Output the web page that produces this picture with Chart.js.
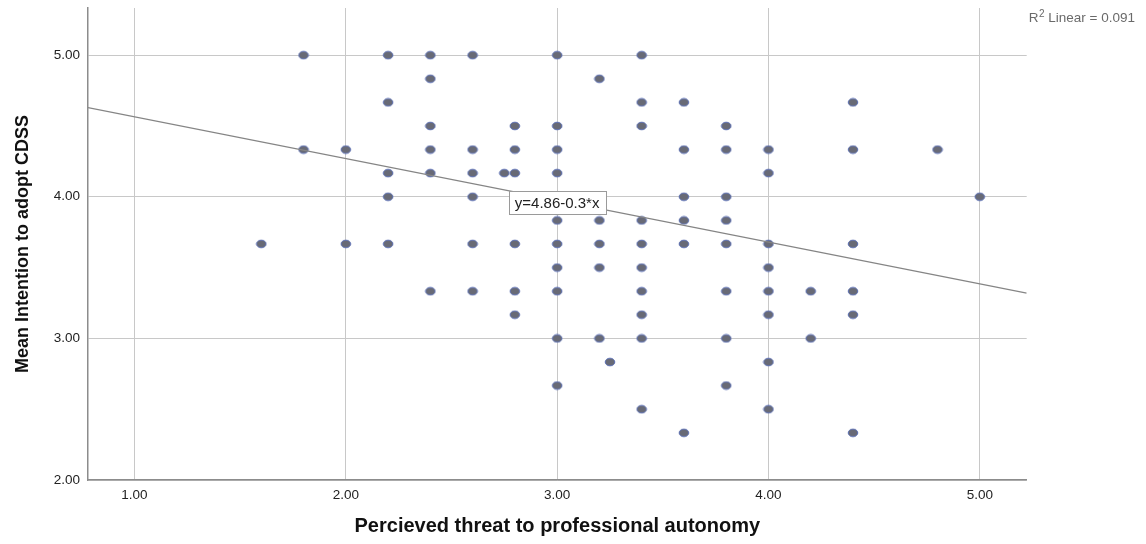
<!DOCTYPE html>
<html>
<head>
<meta charset="utf-8">
<script src="https://cdn.jsdelivr.net/npm/chart.js@4"></script>
<style>
  html, body { margin: 0; padding: 0; background: #fff; }
  #wrap { width: 1146px; height: 544px; }
</style>
</head>
<body>
<div id="wrap"><canvas id="scatter" width="1146" height="544"></canvas></div>
<script>
// intention score rows, and the threat scores that sit on each row
const intentionLevels = [5.00, 4.833, 4.667, 4.50, 4.333, 4.167, 4.00, 3.833, 3.667, 3.50, 3.333, 3.167, 3.00, 2.833, 2.667, 2.50, 2.333];
const threatAtLevel = [
    [1.8, 2.2, 2.4, 2.6, 3.0, 3.4],
    [2.4, 3.2],
    [2.2, 3.4, 3.6, 4.4],
    [2.4, 2.8, 3.0, 3.4, 3.8],
    [1.8, 2.0, 2.4, 2.6, 2.8, 3.0, 3.6, 3.8, 4.0, 4.4, 4.8],
    [2.2, 2.4, 2.6, 2.75, 2.8, 3.0, 4.0],
    [2.2, 2.6, 3.6, 3.8, 5.0],
    [3.0, 3.2, 3.4, 3.6, 3.8],
    [1.6, 2.0, 2.2, 2.6, 2.8, 3.0, 3.2, 3.4, 3.6, 3.8, 4.0, 4.4],
    [3.0, 3.2, 3.4, 4.0],
    [2.4, 2.6, 2.8, 3.0, 3.4, 3.8, 4.0, 4.2, 4.4],
    [2.8, 3.4, 4.0, 4.4],
    [3.0, 3.2, 3.4, 3.8, 4.2],
    [3.25, 4.0],
    [3.0, 3.8],
    [3.4, 4.0],
    [3.6, 4.4]
];
const xTicks = [1, 2, 3, 4, 5];
const yTicks = [2, 3, 4, 5];
const xRange = [0.78, 5.222];
const yRange = [2, 5.333];
// fit line read at both plot edges
const fitX = [0.78, 5.222];
const fitY = [4.63, 3.32];
const fitLabel = 'y=4.86-0.3*x';
const fitLabelAt = [3.0, 3.96];
const rSquared = '0.091';

const font = 'Liberation Sans, Arial, sans-serif';

const points = [];
intentionLevels.forEach((lvl, i) => {
    threatAtLevel[i].forEach(t => points.push({ x: t, y: lvl }));
});

// SPSS style oval marker
const dot = document.createElement('canvas');
dot.width = 12;
dot.height = 10;
const dc = dot.getContext('2d');
dc.beginPath();
dc.ellipse(6, 5, 4.8, 3.8, 0, 0, Math.PI * 2);
dc.fillStyle = 'rgb(104,106,118)';
dc.fill();
dc.lineWidth = 1;
dc.strokeStyle = 'rgb(88,108,178)';
dc.stroke();

const fitLabelPlugin = {
    id: 'fitLabel',
    afterDatasetsDraw(chart) {
        const { ctx, scales } = chart;
        const px = scales.x.getPixelForValue(fitLabelAt[0]);
        const py = scales.y.getPixelForValue(fitLabelAt[1]);
        ctx.save();
        ctx.font = '15px ' + font;
        const w = ctx.measureText(fitLabel).width + 12;
        const h = 23;
        ctx.fillStyle = '#fff';
        ctx.fillRect(Math.round(px - w / 2) + 0.5, Math.round(py - h / 2) + 0.5, Math.round(w), h);
        ctx.strokeStyle = '#9a9a9a';
        ctx.lineWidth = 1;
        ctx.strokeRect(Math.round(px - w / 2) + 0.5, Math.round(py - h / 2) + 0.5, Math.round(w), h);
        ctx.fillStyle = '#222';
        ctx.textAlign = 'center';
        ctx.textBaseline = 'middle';
        ctx.fillText(fitLabel, px, py + 1);
        ctx.restore();
    }
};

const rSquaredPlugin = {
    id: 'rSquared',
    afterDraw(chart) {
        const { ctx, chartArea } = chart;
        let x = chartArea.right + 2;
        const y = 22;
        ctx.save();
        ctx.fillStyle = '#6a6a6a';
        ctx.textBaseline = 'alphabetic';
        ctx.textAlign = 'left';
        ctx.font = '13.5px ' + font;
        ctx.fillText('R', x, y);
        x += ctx.measureText('R').width + 0.5;
        ctx.font = '10px ' + font;
        ctx.fillText('2', x, y - 5);
        x += ctx.measureText('2').width;
        ctx.font = '13.5px ' + font;
        ctx.fillText(' Linear = ' + rSquared, x, y);
        ctx.restore();
    }
};

const ctx = document.getElementById('scatter').getContext('2d');
const chart = new Chart(ctx, {
    type: 'scatter',
    data: {
        datasets: [{
            type: 'line',
            data: fitX.map((x, i) => ({ x: x, y: fitY[i] })),
            borderColor: '#858585',
            borderWidth: 1.2,
            pointRadius: 0,
            fill: false
        }, {
            data: points,
            pointStyle: dot,
            pointRadius: 5,
            pointHoverRadius: 5
        }]
    },
    options: {
        responsive: false,
        animation: false,
        events: [],
        layout: { padding: { top: 8, right: 119.3, bottom: 0, left: 0 } },
        plugins: {
            legend: { display: false },
            tooltip: { enabled: false }
        },
        scales: {
            x: {
                type: 'linear',
                min: xRange[0],
                max: xRange[1],
                afterBuildTicks: axis => { axis.ticks = xTicks.map(v => ({ value: v })); },
                afterFit: axis => {
                    axis.height = 64;
                    axis.paddingLeft = 0;
                    axis.paddingRight = 0;
                },
                grid: { color: '#c8c8c8', lineWidth: 1, drawTicks: false },
                border: { color: '#8c8c8c', width: 1.5 },
                ticks: {
                    color: '#222',
                    font: { family: font, size: 13.5 },
                    padding: 7,
                    maxRotation: 0,
                    autoSkip: false,
                    callback: v => v.toFixed(2)
                },
                title: {
                    display: true,
                    text: 'Percieved threat to professional autonomy',
                    color: '#111',
                    font: { family: font, size: 20, weight: 'bold' },
                    padding: { top: 0, bottom: 6 }
                }
            },
            y: {
                type: 'linear',
                min: yRange[0],
                max: yRange[1],
                afterBuildTicks: axis => { axis.ticks = yTicks.map(v => ({ value: v })); },
                afterFit: axis => {
                    axis.width = 88;
                    axis.paddingTop = 0;
                    axis.paddingBottom = 0;
                },
                grid: { color: '#c8c8c8', lineWidth: 1, drawTicks: false },
                border: { color: '#8c8c8c', width: 1.5 },
                ticks: {
                    color: '#222',
                    font: { family: font, size: 13.5 },
                    padding: 8,
                    autoSkip: false,
                    callback: v => v.toFixed(2)
                },
                title: {
                    display: true,
                    text: 'Mean Intention to adopt CDSS',
                    color: '#111',
                    font: { family: font, size: 18, weight: 'bold' },
                    padding: { top: 12, bottom: 0 }
                }
            }
        }
    },
    plugins: [fitLabelPlugin, rSquaredPlugin]
});
</script>
</body>
</html>
